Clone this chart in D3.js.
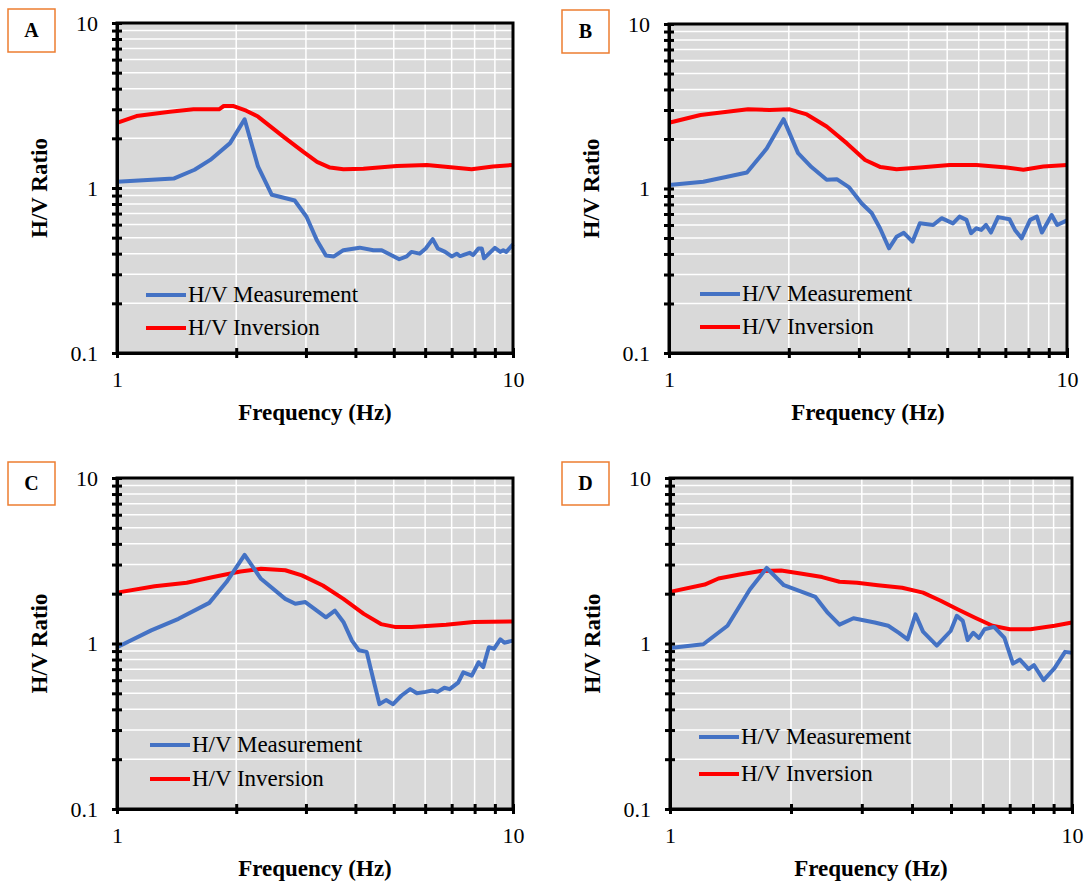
<!DOCTYPE html>
<html>
<head>
<meta charset="utf-8">
<script src="https://cdn.jsdelivr.net/npm/d3@7"></script>
<style>
  body { margin: 0; background: #fff; }
  text { font-family: "Liberation Serif", "Times New Roman", serif; }
</style>
</head>
<body>
<svg id="fig" width="1087" height="882"></svg>
<script>
// ---- data ----
var freqA_meas = [1.0,1.39,1.57,1.72,1.93,2.10,2.27,2.46,2.81,3.01,3.20,3.37,3.53,3.73,4.10,4.44,4.66,5.16,5.39,5.54,5.81,6.02,6.27,6.46,6.74,7.00,7.21,7.35,7.77,7.93,8.18,8.34,8.45,9.00,9.29,9.45,9.62,10.0];
var hvA_meas = [1.09,1.14,1.29,1.48,1.87,2.61,1.35,0.91,0.84,0.67,0.48,0.39,0.385,0.42,0.435,0.42,0.42,0.37,0.385,0.41,0.40,0.43,0.49,0.43,0.41,0.385,0.40,0.387,0.405,0.392,0.43,0.43,0.375,0.434,0.41,0.42,0.41,0.456];
var freqA_inv = [1.0,1.12,1.36,1.56,1.81,1.86,1.97,2.12,2.27,2.63,2.95,3.20,3.45,3.73,4.19,5.09,6.06,7.07,7.86,8.90,10.0];
var hvA_inv = [2.48,2.73,2.90,3.0,3.0,3.14,3.14,2.94,2.71,2.05,1.66,1.44,1.33,1.30,1.31,1.36,1.38,1.33,1.30,1.35,1.38];

var freqB_meas = [1.0,1.22,1.40,1.57,1.76,1.94,2.11,2.28,2.49,2.64,2.83,3.05,3.23,3.39,3.57,3.73,3.89,4.09,4.27,4.61,4.84,5.17,5.37,5.59,5.74,5.92,6.09,6.26,6.44,6.71,7.17,7.40,7.69,8.08,8.40,8.65,9.15,9.45,10.0];
var hvB_meas = [1.05,1.10,1.18,1.25,1.75,2.64,1.64,1.35,1.13,1.14,1.02,0.81,0.71,0.573,0.433,0.509,0.538,0.475,0.614,0.60,0.66,0.614,0.675,0.645,0.535,0.573,0.56,0.60,0.54,0.67,0.65,0.56,0.498,0.645,0.675,0.54,0.69,0.60,0.64];
var freqB_inv = [1.0,1.20,1.40,1.58,1.79,2.01,2.22,2.49,2.80,3.11,3.40,3.73,4.27,5.07,5.92,7.05,7.77,8.72,10.0];
var hvB_inv = [2.51,2.80,2.93,3.03,3.0,3.03,2.82,2.38,1.88,1.49,1.35,1.31,1.34,1.39,1.39,1.34,1.30,1.36,1.39];

var freqC_meas = [1.0,1.22,1.43,1.71,1.89,2.10,2.31,2.66,2.82,2.99,3.37,3.55,3.73,3.92,4.08,4.27,4.46,4.60,4.78,4.98,5.23,5.50,5.72,6.02,6.26,6.45,6.71,6.92,7.27,7.49,7.87,8.19,8.41,8.69,8.96,9.29,9.51,10.0];
var hvC_meas = [0.95,1.20,1.41,1.76,2.35,3.43,2.46,1.86,1.74,1.78,1.44,1.58,1.35,1.04,0.91,0.89,0.58,0.43,0.455,0.43,0.485,0.53,0.50,0.51,0.52,0.51,0.54,0.53,0.58,0.67,0.64,0.77,0.72,0.95,0.93,1.06,1.01,1.04];
var freqC_inv = [1.0,1.245,1.50,1.75,2.05,2.31,2.66,2.93,3.31,3.73,4.20,4.64,5.03,5.55,6.78,7.95,10.0];
var hvC_inv = [2.03,2.22,2.33,2.52,2.72,2.83,2.77,2.58,2.24,1.86,1.51,1.31,1.26,1.26,1.30,1.35,1.36];

var freqD_meas = [1.0,1.21,1.39,1.58,1.74,1.92,2.30,2.47,2.64,2.86,3.23,3.49,3.71,3.90,4.08,4.26,4.61,4.99,5.17,5.35,5.50,5.68,5.87,6.06,6.40,6.79,7.13,7.42,7.80,8.04,8.50,9.05,9.61,10.0];
var hvD_meas = [0.94,0.99,1.28,2.12,2.86,2.25,1.91,1.53,1.30,1.42,1.34,1.28,1.16,1.06,1.50,1.18,0.97,1.19,1.47,1.37,1.05,1.16,1.08,1.22,1.26,1.08,0.756,0.80,0.70,0.74,0.60,0.71,0.89,0.88];
var freqD_inv = [1.0,1.22,1.32,1.49,1.68,1.89,2.13,2.39,2.64,2.92,3.29,3.78,4.26,4.70,5.19,5.74,6.34,7.0,7.88,9.05,10.0];
var hvD_inv = [2.05,2.27,2.47,2.61,2.74,2.76,2.64,2.52,2.36,2.33,2.25,2.17,2.03,1.82,1.61,1.43,1.28,1.22,1.22,1.28,1.34];

var xTicks = [1,2,3,4,5,6,7,8,9,10];
var yTicks = [0.1,0.2,0.3,0.4,0.5,0.6,0.7,0.8,0.9,1,2,3,4,5,6,7,8,9,10];
var xLabels = {1: "1", 10: "10"};
var yLabels = {0.1: "0.1", 1: "1", 10: "10"};
var seriesNames = ["H/V Measurement", "H/V Inversion"];
var seriesColors = ["#4472C4", "#FF0000"];

// panel layout
var panels = [
  {name: "A", x0: 117, x1: 513, y0: 23, y1: 353, box: [8, 9], leg: [146, 295, 328],
   fm: freqA_meas, vm: hvA_meas, fi: freqA_inv, vi: hvA_inv},
  {name: "B", x0: 669, x1: 1067, y0: 24, y1: 353, box: [562, 10], leg: [700, 294, 327],
   fm: freqB_meas, vm: hvB_meas, fi: freqB_inv, vi: hvB_inv},
  {name: "C", x0: 117, x1: 513, y0: 478, y1: 809, box: [8, 462], leg: [150, 745, 779],
   fm: freqC_meas, vm: hvC_meas, fi: freqC_inv, vi: hvC_inv},
  {name: "D", x0: 670, x1: 1072, y0: 478, y1: 809, box: [562, 462], leg: [699, 737, 774],
   fm: freqD_meas, vm: hvD_meas, fi: freqD_inv, vi: hvD_inv}
];

var svg = d3.select("#fig");

panels.forEach(function(p) {
    var x = d3.scaleLog().domain([1, 10]).range([p.x0, p.x1]);
    var y = d3.scaleLog().domain([0.1, 10]).range([p.y1, p.y0]);
    var g = svg.append("g");

    // plot background
    g.append("rect").attr("x", p.x0).attr("y", p.y0)
        .attr("width", p.x1 - p.x0).attr("height", p.y1 - p.y0)
        .attr("fill", "#D9D9D9");

    // gridlines
    g.selectAll(".vg").data(xTicks.slice(1, -1)).enter().append("line")
        .attr("x1", x).attr("x2", x).attr("y1", p.y0).attr("y2", p.y1)
        .attr("stroke", "#fff").attr("stroke-width", 1.5);
    g.selectAll(".hg").data(yTicks.slice(1, -1)).enter().append("line")
        .attr("x1", p.x0).attr("x2", p.x1).attr("y1", y).attr("y2", y)
        .attr("stroke", "#fff").attr("stroke-width", 1.5);

    // curves
    var line = d3.line().x(function(d) { return x(d[0]); }).y(function(d) { return y(d[1]); });
    var meas = p.fm.map(function(f, i) { return [f, p.vm[i]]; });
    var inv = p.fi.map(function(f, i) { return [f, p.vi[i]]; });
    g.append("path").datum(inv).attr("d", line).attr("fill", "none")
        .attr("stroke", seriesColors[1]).attr("stroke-width", 4).attr("stroke-linejoin", "round");
    g.append("path").datum(meas).attr("d", line).attr("fill", "none")
        .attr("stroke", seriesColors[0]).attr("stroke-width", 4).attr("stroke-linejoin", "round");

    // frame (top/right)
    g.append("rect").attr("x", p.x0).attr("y", p.y0)
        .attr("width", p.x1 - p.x0).attr("height", p.y1 - p.y0)
        .attr("fill", "none").attr("stroke", "#000").attr("stroke-width", 3);

    // axes
    var yAxis = d3.axisLeft(y).tickValues(yTicks).tickSizeInner(5).tickSizeOuter(0).tickPadding(14)
        .tickFormat(function(d) { return yLabels[d] || ""; });
    var ya = g.append("g").attr("transform", "translate(" + p.x0 + ",0)").call(yAxis);
    var xAxis = d3.axisBottom(x).tickValues(xTicks).tickSizeInner(5).tickSizeOuter(0).tickPadding(13)
        .tickFormat(function(d) { return xLabels[d] || ""; });
    var xa = g.append("g").attr("transform", "translate(0," + p.y1 + ")").call(xAxis);

    [ya, xa].forEach(function(a) {
        a.select(".domain").attr("stroke", "#000").attr("stroke-width", 3);
        a.selectAll(".tick line").attr("stroke", "#000").attr("stroke-width", 3);
        a.selectAll(".tick text").attr("font-size", 22).attr("fill", "#000")
            .style("font-family", "'Liberation Serif', 'Times New Roman', serif");
    });
    ya.selectAll(".tick line").attr("x1", 5);
    xa.selectAll(".tick line").attr("y1", -5);

    // axis titles
    g.append("text").attr("x", (p.x0 + p.x1) / 2).attr("y", p.y1 + 67)
        .attr("text-anchor", "middle").attr("font-size", 23).attr("font-weight", "bold")
        .text("Frequency (Hz)");
    g.append("text")
        .attr("transform", "translate(" + (p.x0 - 70) + "," + ((p.y0 + p.y1) / 2) + ") rotate(-90)")
        .attr("text-anchor", "middle").attr("font-size", 23).attr("font-weight", "bold")
        .text("H/V Ratio");

    // legend
    seriesNames.forEach(function(name, i) {
        var ly = p.leg[i + 1];
        g.append("line").attr("x1", p.leg[0]).attr("x2", p.leg[0] + 40)
            .attr("y1", ly).attr("y2", ly)
            .attr("stroke", seriesColors[i]).attr("stroke-width", 4);
        g.append("text").attr("x", p.leg[0] + 42).attr("y", ly + 7)
            .attr("font-size", 23).text(name);
    });

    // panel letter
    g.append("rect").attr("x", p.box[0]).attr("y", p.box[1]).attr("width", 47).attr("height", 43)
        .attr("fill", "#fff").attr("stroke", "#ED7D31").attr("stroke-width", 1.5);
    g.append("text").attr("x", p.box[0] + 23.5).attr("y", p.box[1] + 28)
        .attr("text-anchor", "middle").attr("font-size", 20).attr("font-weight", "bold")
        .text(p.name);
});
</script>
</body>
</html>
